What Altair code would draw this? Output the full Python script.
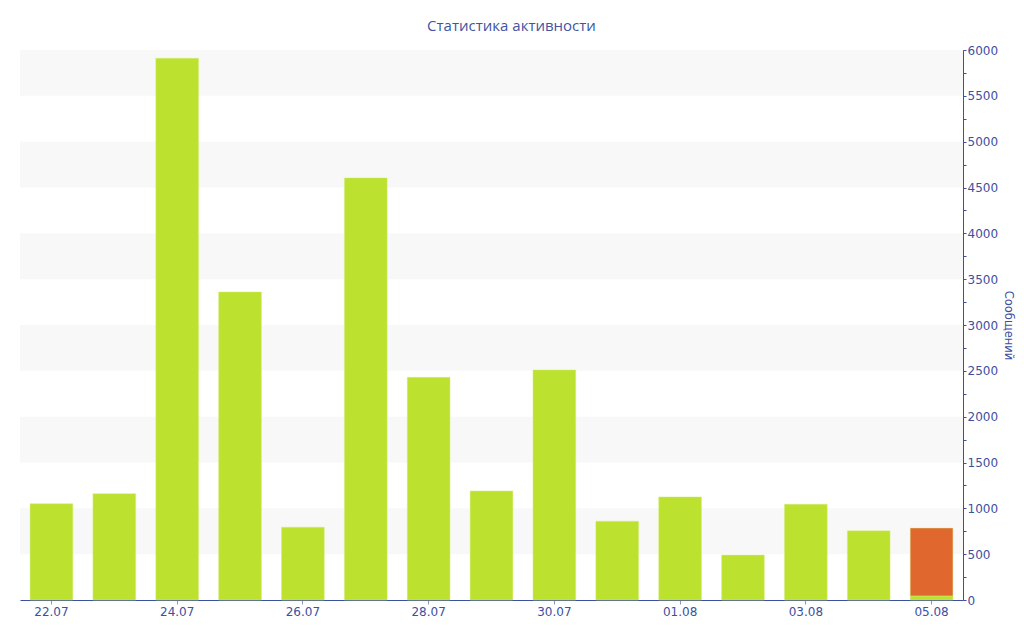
import altair as alt
import pandas as pd

dates = ["22.07", "23.07", "24.07", "25.07", "26.07", "27.07", "28.07", "29.07",
         "30.07", "31.07", "01.08", "02.08", "03.08", "04.08", "05.08"]
green_values = [1050, 1160, 5910, 3360, 795, 4605, 2430, 1190,
                2510, 860, 1125, 490, 1045, 755, 45]
orange_values = [0, 0, 0, 0, 0, 0, 0, 0, 0, 0, 0, 0, 0, 0, 740]
band_starts = [500, 1500, 2500, 3500, 4500, 5500]
band_ends = [1000, 2000, 3000, 4000, 5000, 6000]
label_dates = dates[::2]

rows = []
for d, g, o in zip(dates, green_values, orange_values):
    rows.append({"date": d, "value": g, "series": "g", "ord": 0})
    if o:
        rows.append({"date": d, "value": o, "series": "o", "ord": 1})
df = pd.DataFrame(rows)
bands = pd.DataFrame({"y0": band_starts, "y1": band_ends})

AXC = "#3d4f9f"
FONT = "DejaVu Sans"

yscale = alt.Scale(domain=[0, 6000], nice=False)
yaxis = alt.Axis(orient="right", title="Сообщений",
                 values=list(range(0, 6001, 250)),
                 labelExpr="datum.value % 500 == 0 ? datum.value : ''",
                 tickSize=3, tickColor=AXC, domainColor=AXC,
                 labelColor=AXC, labelFont=FONT, labelFontSize=12,
                 labelPadding=1, grid=False,
                 titleColor=AXC, titleFont=FONT, titleFontSize=11.5,
                 titleFontWeight="normal", titlePadding=5)

band_layer = alt.Chart(bands).mark_rect(color="#f8f8f8").encode(
    y=alt.Y("y0:Q", scale=yscale, axis=yaxis),
    y2="y1:Q",
)

bars = alt.Chart(df).mark_bar(stroke="#d6ee7c", strokeWidth=0.6, strokeOpacity=0.8).encode(
    x=alt.X("date:N", sort=dates,
            scale=alt.Scale(paddingInner=0.32, paddingOuter=0.16),
            axis=alt.Axis(values=label_dates, title=None, labelAngle=0,
                          labelColor=AXC, labelFont=FONT, labelFontSize=12,
                          domainColor=AXC, tickColor="#8a96c4", tickSize=4,
                          labelPadding=2)),
    y=alt.Y("value:Q", stack="zero", scale=yscale, axis=yaxis),
    color=alt.Color("series:N", scale=alt.Scale(domain=["g", "o"], range=["#bce12e", "#e0672e"]), legend=None),
    order=alt.Order("ord:Q"),
)

chart = alt.layer(band_layer, bars).resolve_scale(y="shared").properties(
    width=943, height=550,
    title=alt.TitleParams("Статистика активности", font="Open Sans", fontSize=15,
                          fontWeight="normal", color="#3f55a3", anchor="middle",
                          frame="group", dx=20, offset=10),
    autosize=alt.AutoSizeParams(type="none"),
    padding={"left": 12, "top": 42, "right": 53, "bottom": 32},
).configure_view(stroke=None)

chart.save("out.html", embed_options={"renderer": "svg", "actions": False})
